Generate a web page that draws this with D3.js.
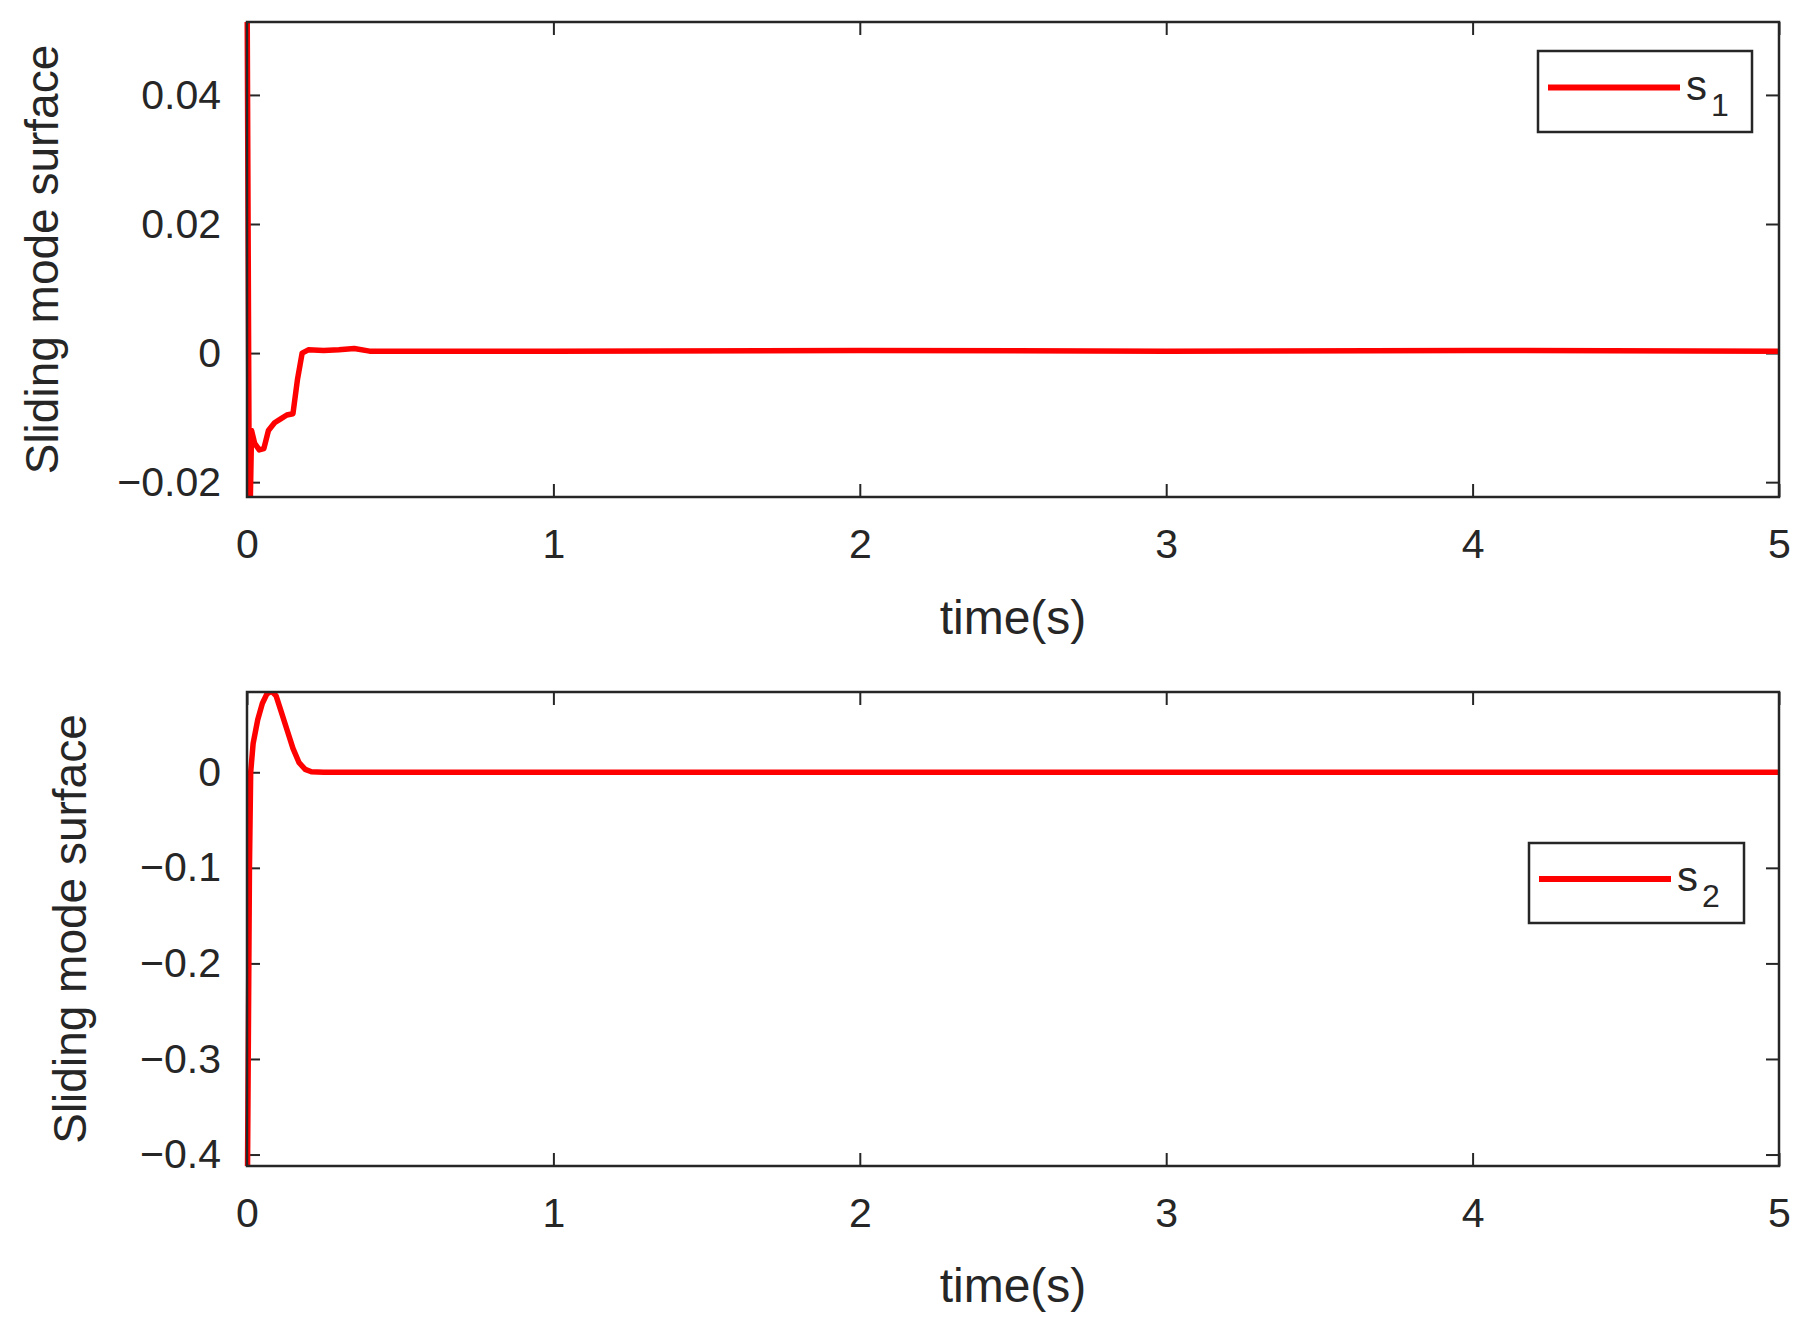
<!DOCTYPE html><html><head><meta charset="utf-8"><script src="https://cdn.jsdelivr.net/npm/d3@7"></script>
<style>body{margin:0;background:#fff}text{font-family:Arial,"Liberation Sans",sans-serif;fill:#262626}</style></head><body>
<svg id="c" width="1817" height="1328"></svg>
<script>
const xTicks=[0,1,2,3,4,5];
const s1Time=[0,0.008,0.015,0.025,0.04,0.055,0.07,0.09,0.11,0.13,0.15,0.165,0.18,0.2,0.25,0.3,0.35,0.4,0.6,1,2,3,4,5];
const s1Vals=[0.06,-0.03,-0.012,-0.014,-0.015,-0.0148,-0.012,-0.0108,-0.0102,-0.0096,-0.0094,-0.004,0,0.0005,0.0004,0.0005,0.0007,0.0003,0.0003,0.0003,0.0004,0.0003,0.0004,0.0003];
const s1Ticks=[-0.02,0,0.02,0.04];
const s2Time=[0,0.004,0.008,0.012,0.02,0.035,0.05,0.065,0.08,0.095,0.11,0.13,0.15,0.17,0.19,0.21,0.25,0.3,1,2,3,4,5];
const s2Vals=[-0.5,-0.3,-0.1,0.0,0.03,0.055,0.072,0.082,0.085,0.08,0.065,0.045,0.025,0.01,0.003,0.0005,0,0,0,0,0,0,0];
const s2Ticks=[-0.4,-0.3,-0.2,-0.1,0];
const svg=d3.select("#c");
function panel(o){
  const {top,bottom,yDom,yTicks,xs,ys,sub,leg,ylx,xlab}=o;
  const L=247,R=1779;
  const x=d3.scaleLinear().domain([0,5]).range([L,R]);
  const y=d3.scaleLinear().domain(yDom).range([bottom,top]);
  const g=svg.append("g");
  const id="clip"+sub;
  g.append("clipPath").attr("id",id).append("rect").attr("x",L-6).attr("y",top).attr("width",R-L+6).attr("height",bottom-top);
  const tl=13;
  const ax=(gen,tr)=>{const a=g.append("g").attr("transform",tr).call(gen);a.select(".domain").remove();a.selectAll("line").attr("stroke","#262626").attr("stroke-width",2);return a;};
  const xb=ax(d3.axisBottom(x).tickValues(xTicks).tickSize(-tl).tickPadding(32).tickFormat(d3.format("d")),`translate(0,${bottom})`);
  xb.selectAll("text").attr("font-size",41).attr("fill","#262626");
  ax(d3.axisTop(x).tickValues(xTicks).tickSize(-tl).tickFormat(""),`translate(0,${top})`);
  const yl=ax(d3.axisLeft(y).tickValues(yTicks).tickSize(-tl).tickPadding(26).tickFormat(d=>d===0?"0":d3.format("")(d).replace("-","\u2212")),`translate(${L},0)`);
  yl.selectAll("text").attr("font-size",41).attr("fill","#262626");
  ax(d3.axisRight(y).tickValues(yTicks).tickSize(-tl).tickFormat(""),`translate(${R},0)`);
  g.append("path").datum(xs.map((t,i)=>[t,ys[i]])).attr("clip-path",`url(#${id})`).attr("fill","none").attr("stroke","#ff0000").attr("stroke-width",5.5).attr("stroke-linejoin","round").attr("d",d3.line().x(d=>x(d[0])).y(d=>y(d[1])));
  g.append("rect").attr("x",L).attr("y",top).attr("width",R-L).attr("height",bottom-top).attr("fill","none").attr("stroke","#262626").attr("stroke-width",2.5);
  g.append("text").attr("x",(L+R)/2).attr("y",xlab).attr("text-anchor","middle").attr("font-size",48).text("time(s)");
  g.append("text").attr("transform",`translate(${ylx},${(top+bottom)/2}) rotate(-90)`).attr("text-anchor","middle").attr("font-size",46).text("Sliding mode surface");
  const [lx,ly,lw,lh]=leg;
  g.append("rect").attr("x",lx).attr("y",ly).attr("width",lw).attr("height",lh).attr("fill","#fff").attr("stroke","#262626").attr("stroke-width",2.5);
  g.append("line").attr("x1",lx+10).attr("x2",lx+142).attr("y1",ly+lh/2-4).attr("y2",ly+lh/2-4).attr("stroke","#ff0000").attr("stroke-width",6);
  const t=g.append("text").attr("x",lx+148).attr("y",ly+lh/2+8).attr("font-size",42);
  t.append("tspan").text("s");
  t.append("tspan").attr("dy",16).attr("dx",4).attr("font-size",32).text(sub);
}
panel({top:22,bottom:497,yDom:[-0.0223,0.0513],yTicks:s1Ticks,xs:s1Time,ys:s1Vals,sub:"1",leg:[1538,51,214,81],ylx:58,xlab:634});
panel({top:692,bottom:1166,yDom:[-0.412,0.084],yTicks:s2Ticks,xs:s2Time,ys:s2Vals,sub:"2",leg:[1529,843,215,80],ylx:86,xlab:1302});
</script></body></html>
